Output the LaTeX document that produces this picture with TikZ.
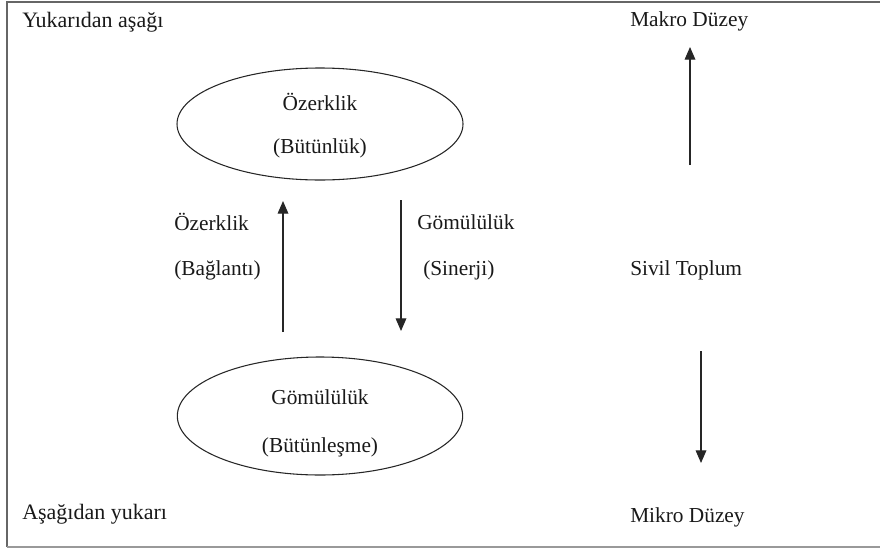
\documentclass[tikz,border=0pt]{standalone}
\usepackage{fontspec}
\setmainfont{Liberation Serif}
\usetikzlibrary{shapes.geometric,arrows.meta}
\begin{document}
\begin{tikzpicture}[x=0.75pt,y=-0.75pt,
  lbl/.style={font=\fontsize{16}{18}\selectfont, inner sep=0pt, text=black!90},
  clbl/.style={lbl, font=\fontsize{16.5}{18}\selectfont},
  oval/.style={draw=black!85, line width=0.8pt, ellipse, inner sep=0pt},
  arr/.style={draw=black!85, line width=0.9pt, -{Triangle[width=8pt,length=9.5pt]}},
  frame/.style={line width=1.4pt}]
\useasboundingbox (0,0) rectangle (880,550);
% frame
\draw[frame, draw=black!60] (7,547) -- (7,2) -- (880,2);
\draw[frame, draw=black!40] (7,547) -- (880,547);
% corner labels
\node[clbl, anchor=west] (tl) at (22,22) {Yukarıdan aşağı};
\node[clbl, anchor=west] (bl) at (22,514) {Aşağıdan yukarı};
\node[lbl, anchor=west] (makro) at (630,21) {Makro Düzey};
\node[lbl, anchor=west] (sivil) at (630,270) {Sivil Toplum};
\node[lbl, anchor=west] (mikro) at (630,517) {Mikro Düzey};
% ellipses
\node[oval, minimum width=214.5pt, minimum height=84pt] (top) at (320,124) {};
\node[lbl] (t1) at (320,102) {Özerklik};
\node[lbl] (t2) at (320,148) {(Bütünlük)};
\node[oval, minimum width=214pt, minimum height=88.5pt] (bot) at (320,416) {};
\node[lbl] (b1) at (320,397) {Gömülülük};
\node[lbl] (b2) at (320,447) {(Bütünleşme)};
% middle labels
\node[lbl, anchor=west] (l1) at (174,222) {Özerklik};
\node[lbl, anchor=west] (l2) at (174,270) {(Bağlantı)};
\node[lbl, anchor=west] (r1) at (417,222) {Gömülülük};
\node[lbl, anchor=west] (r2) at (423,270) {(Sinerji)};
% arrow endpoints
\coordinate (ua) at (283,332);
\coordinate (ub) at (283,201);
\coordinate (da) at (401,200);
\coordinate (db) at (401,331);
\coordinate (ra) at (690,165);
\coordinate (rb) at (690,47);
\coordinate (sa) at (701,351);
\coordinate (sb) at (701,463);
\draw[arr] (ua) -- (ub);
\draw[arr] (da) -- (db);
\draw[arr] (ra) -- (rb);
\draw[arr] (sa) -- (sb);
\end{tikzpicture}
\end{document}
